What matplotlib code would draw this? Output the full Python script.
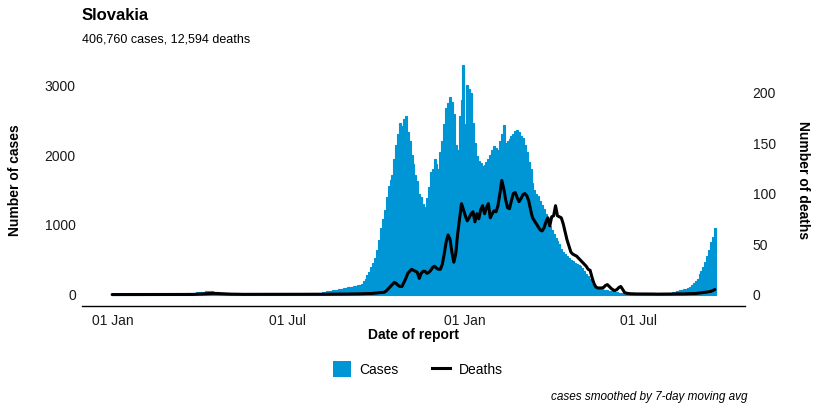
import numpy as np
import pandas as pd
import matplotlib
matplotlib.use('Agg')
import matplotlib.pyplot as plt
from matplotlib.patches import Patch
from matplotlib.lines import Line2D

plt.rcParams['font.family'] = ['Liberation Sans', 'DejaVu Sans']

# ---------------- data (2-day steps starting 2019-12-31) ----------------
START = '2019-12-31'
STEP_DAYS = 2

CASES = [
    0, 0, 0, 0, 0, 0, 0, 0, 0, 0,
    0, 0, 0, 0, 0, 0, 0, 0, 0, 0,
    0, 0, 0, 0, 0, 0, 0, 0, 0, 0,
    0, 0, 0, 1, 2, 4, 7, 10, 14, 18,
    20, 23, 26, 28, 30, 32, 35, 38, 41, 44,
    47, 48, 46, 42, 36, 30, 24, 18, 14, 11,
    9, 7, 6, 5, 4, 4, 3, 3, 3, 2,
    3, 3, 3, 3, 3, 4, 4, 4, 4, 5,
    5, 5, 5, 6, 6, 6, 7, 7, 7, 8,
    8, 8, 9, 9, 10, 10, 11, 11, 12, 13,
    13, 14, 15, 16, 17, 18, 20, 22, 24, 28,
    32, 38, 44, 50, 57, 64, 68, 72, 76, 80,
    86, 92, 98, 104, 108, 112, 118, 124, 130, 140,
    155, 190, 220, 280, 330, 390, 460, 530, 640, 790,
    960, 1080, 1220, 1400, 1560, 1640, 1720, 1950, 2150, 2300,
    2460, 2420, 2520, 2560, 2330, 2200, 2000, 1880, 1720, 1630,
    1450, 1400, 1300, 1260, 1390, 1550, 1760, 1800, 1940, 1880,
    1800, 2050, 2200, 2450, 2680, 2750, 2840, 2760, 2600, 2150,
    2080, 2560, 2800, 3290, 2450, 3010, 2950, 2890, 2460, 2180,
    1990, 1920, 1890, 1840, 1860, 1900, 1940, 2000, 2080, 2130,
    2100, 2080, 2200, 2300, 2440, 2180, 2200, 2230, 2270, 2310,
    2350, 2370, 2330, 2280, 2250, 2150, 2040, 1900, 1800, 1600,
    1500, 1450, 1410, 1350, 1290, 1230, 1150, 1060, 990, 930,
    870, 810, 770, 720, 660, 610, 580, 550, 520, 500,
    480, 460, 440, 425, 410, 380, 340, 300, 260, 220,
    150, 120, 100, 90, 82, 75, 70, 65, 60, 56,
    50, 45, 38, 32, 26, 22, 19, 17, 15, 14,
    13, 13, 12, 12, 12, 11, 11, 11, 12, 12,
    12, 13, 13, 14, 14, 15, 16, 17, 18, 20,
    25, 28, 33, 40, 46, 52, 60, 68, 76, 85,
    95, 110, 135, 160, 190, 230, 290, 340, 400, 470,
    560, 640, 760, 820, 960,
]

DEATHS = [
    0, 0, 0, 0, 0, 0, 0, 0, 0, 0,
    0, 0, 0, 0, 0, 0, 0, 0, 0, 0,
    0, 0, 0, 0, 0, 0, 0, 0, 0, 0,
    0, 0, 0, 0, 0, 0, 0, 0, 0, 0,
    0, 0, 0.1, 0.2, 0.3, 0.4, 0.5, 0.6, 0.7, 0.8,
    0.9, 1, 1.1, 1.2, 1.1, 1, 0.9, 0.8, 0.7, 0.6,
    0.5, 0.5, 0.4, 0.4, 0.3, 0.3, 0.3, 0.2, 0.2, 0.2,
    0.2, 0.2, 0.1, 0.1, 0.1, 0.1, 0.1, 0.1, 0.1, 0.1,
    0.1, 0.1, 0.1, 0.1, 0.1, 0.1, 0.1, 0.1, 0.1, 0.1,
    0.1, 0.1, 0.1, 0.1, 0.1, 0.1, 0.2, 0.2, 0.2, 0.2,
    0.2, 0.2, 0.2, 0.2, 0.2, 0.3, 0.3, 0.3, 0.3, 0.3,
    0.3, 0.3, 0.3, 0.4, 0.4, 0.4, 0.4, 0.4, 0.5, 0.5,
    0.5, 0.5, 0.5, 0.5, 0.6, 0.6, 0.6, 0.7, 0.7, 0.7,
    0.8, 0.8, 0.9, 1, 1, 1, 1.2, 1.4, 1.6, 1.8,
    2, 2, 2.5, 4, 6, 8, 10, 12, 11, 9,
    8, 8, 12, 16, 21, 23, 25, 24, 23, 22,
    16, 21, 23, 23, 21, 22, 24, 27, 28, 26,
    25, 25, 30, 40, 52, 59, 55, 42, 32, 40,
    60, 75, 90, 84, 78, 73, 76, 80, 82, 72,
    80, 75, 84, 88, 80, 86, 90, 76, 80, 83,
    82, 88, 100, 113, 105, 94, 86, 85, 93, 100,
    101, 96, 92, 95, 99, 100, 98, 93, 84, 76,
    73, 70, 67, 64, 63, 66, 72, 76, 68, 77,
    78, 88, 78, 77, 76, 70, 62, 54, 48, 42,
    40, 39, 38, 36, 34, 32, 30, 28, 25, 24,
    17, 11, 7.5, 6.5, 6.5, 6.5, 7, 9, 9.8, 8,
    6, 4.6, 4, 5, 7, 8, 5, 2, 1.3, 1,
    0.8, 0.7, 0.7, 0.6, 0.6, 0.6, 0.5, 0.5, 0.5, 0.5,
    0.5, 0.5, 0.5, 0.4, 0.4, 0.4, 0.5, 0.5, 0.5, 0.5,
    0.5, 0.5, 0.6, 0.6, 0.6, 0.6, 0.7, 0.7, 0.7, 0.8,
    0.8, 0.9, 0.9, 1, 1, 1.2, 1.5, 1.8, 2, 2.2,
    2.5, 2.8, 3.2, 4, 5,
]

TICK_DATES = ['2020-01-01', '2020-07-01', '2021-01-01', '2021-07-01']
TICK_LABELS = ['01 Jan', '01 Jul', '01 Jan', '01 Jul']
CASE_TICKS = [0, 1000, 2000, 3000]
DEATH_TICKS = [0, 50, 100, 150, 200]
DEATH_SCALE = 14.5  # cases per death on the secondary axis

TITLE = 'Slovakia'
SUBTITLE = '406,760 cases, 12,594 deaths'
CAPTION = 'cases smoothed by 7-day moving avg'
XLABEL = 'Date of report'
YLABEL_L = 'Number of cases'
YLABEL_R = 'Number of deaths'

BLUE = '#0096D6'
TXT = '#1a1a1a'

# ---------------- figure ----------------
W, H = 821, 411
fig = plt.figure(figsize=(W / 100, H / 100), dpi=100)

L, R, T, B = 82, 745, 54, 306
ax = fig.add_axes([L / W, 1 - B / H, (R - L) / W, (B - T) / H])

dates = pd.date_range(START, periods=len(CASES), freq=f'{STEP_DAYS}D')
ax.bar(dates, CASES, width=STEP_DAYS, color=BLUE, edgecolor=BLUE,
       linewidth=0.8, align='center', zorder=2)

span = dates[-1] - dates[0]
ax.set_xlim(dates[0] - 0.05 * span, dates[-1] + 0.05 * span)
cmax = max(CASES)
lo, hi = -0.05 * cmax, 1.05 * cmax
ax.set_ylim(lo, hi)

ax2 = ax.twinx()
ax2.plot(dates, DEATHS, color='black', lw=2.2, solid_capstyle='round',
         solid_joinstyle='round', zorder=3)
ax2.set_ylim(lo / DEATH_SCALE, hi / DEATH_SCALE)

for a in (ax, ax2):
    for s in a.spines.values():
        s.set_visible(False)
    a.set_facecolor('none')
ax.spines['bottom'].set_visible(True)
ax.spines['bottom'].set_linewidth(1.0)
ax.spines['bottom'].set_color('black')

ax.set_xticks(pd.to_datetime(TICK_DATES))
ax.set_xticklabels(TICK_LABELS)
ax.set_yticks(CASE_TICKS)
ax.set_yticklabels([str(v) for v in CASE_TICKS])
ax2.set_yticks(DEATH_TICKS)
ax2.set_yticklabels([str(v) for v in DEATH_TICKS])

ax.tick_params(axis='x', length=0, pad=6, labelsize=10, labelcolor=TXT)
ax.tick_params(axis='y', length=0, pad=4.5, labelsize=10, labelcolor=TXT)
ax2.tick_params(axis='y', length=0, pad=5.5, labelsize=10, labelcolor=TXT)

# texts
fig.text(L / W, 1 - 20 / H, TITLE, fontsize=12, fontweight='bold',
         ha='left', va='baseline', color='black')
fig.text(L / W, 1 - 42 / H, SUBTITLE, fontsize=9, ha='left',
         va='baseline', color='black')
fig.text((L + R) / 2 / W, 1 - 335 / H, XLABEL, fontsize=10,
         fontweight='bold', ha='center', va='center', color='black')
fig.text(15 / W, 1 - 180 / H, YLABEL_L, fontsize=10, fontweight='bold',
         rotation=90, ha='center', va='center', color='black')
fig.text(803 / W, 1 - 180 / H, YLABEL_R, fontsize=10, fontweight='bold',
         rotation=270, ha='center', va='center', color='black')
fig.text(747 / W, 1 - 400 / H, CAPTION, fontsize=8.5, style='italic',
         ha='right', va='baseline', color='black')

handles = [Patch(facecolor=BLUE, edgecolor='none', label='Cases'),
           Line2D([], [], color='black', lw=2.2, label='Deaths')]
fig.legend(handles=handles, loc='center', bbox_to_anchor=(418 / W, 1 - 369 / H),
           ncol=2, frameon=False, fontsize=10, handlelength=1.3,
           handleheight=1.3, handletextpad=0.6, columnspacing=2.4)

fig.savefig('out.png', dpi=100)
